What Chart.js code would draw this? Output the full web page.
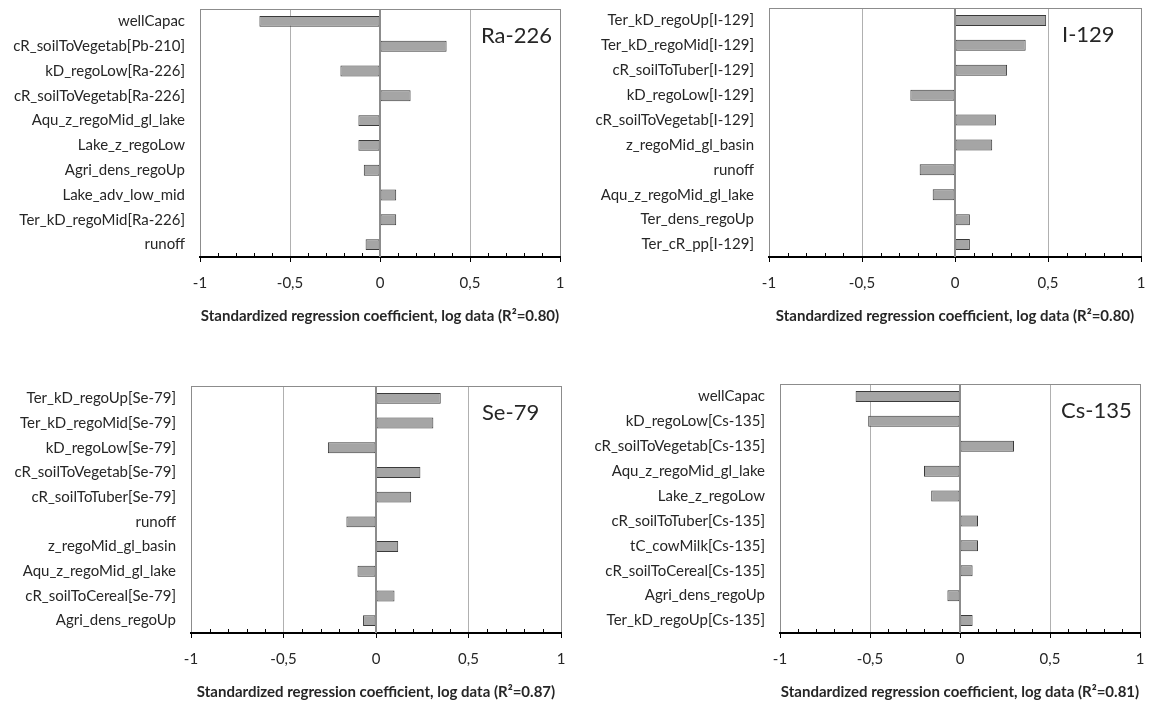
<!DOCTYPE html>
<html><head><meta charset="utf-8">
<script src="https://cdn.jsdelivr.net/npm/chart.js@4/dist/chart.umd.min.js"></script>
<style>
html,body{margin:0;padding:0;background:#fff;}
#wrap{position:relative;width:1162px;height:706px;overflow:hidden;background:#fff;}
canvas{position:absolute;}
</style></head><body>
<div id="wrap">
<canvas id="c1" width="581" height="340" style="left:0;top:0"></canvas>
<canvas id="c2" width="581" height="340" style="left:581px;top:0"></canvas>
<canvas id="c3" width="581" height="366" style="left:0;top:340px"></canvas>
<canvas id="c4" width="581" height="366" style="left:581px;top:340px"></canvas>
</div>
<script>
// ---- data ----
const tickValues = [-1, -0.5, 0, 0.5, 1];
const tickLabels = ['-1', '-0,5', '0', '0,5', '1'];
const axisTitleText = 'Standardized regression coefficient, log data';

const raName = 'Ra-226';
const raR2 = '0.80';
const raLabels = ['wellCapac','cR_soilToVegetab[Pb-210]','kD_regoLow[Ra-226]','cR_soilToVegetab[Ra-226]','Aqu_z_regoMid_gl_lake','Lake_z_regoLow','Agri_dens_regoUp','Lake_adv_low_mid','Ter_kD_regoMid[Ra-226]','runoff'];
const raValues = [-0.67, 0.37, -0.22, 0.17, -0.12, -0.12, -0.09, 0.09, 0.09, -0.08];

const iName = 'I-129';
const iR2 = '0.80';
const iLabels = ['Ter_kD_regoUp[I-129]','Ter_kD_regoMid[I-129]','cR_soilToTuber[I-129]','kD_regoLow[I-129]','cR_soilToVegetab[I-129]','z_regoMid_gl_basin','runoff','Aqu_z_regoMid_gl_lake','Ter_dens_regoUp','Ter_cR_pp[I-129]'];
const iValues = [0.49, 0.38, 0.28, -0.24, 0.22, 0.20, -0.19, -0.12, 0.08, 0.08];

const seName = 'Se-79';
const seR2 = '0.87';
const seLabels = ['Ter_kD_regoUp[Se-79]','Ter_kD_regoMid[Se-79]','kD_regoLow[Se-79]','cR_soilToVegetab[Se-79]','cR_soilToTuber[Se-79]','runoff','z_regoMid_gl_basin','Aqu_z_regoMid_gl_lake','cR_soilToCereal[Se-79]','Agri_dens_regoUp'];
const seValues = [0.35, 0.31, -0.26, 0.24, 0.19, -0.16, 0.12, -0.10, 0.10, -0.07];

const csName = 'Cs-135';
const csR2 = '0.81';
const csLabels = ['wellCapac','kD_regoLow[Cs-135]','cR_soilToVegetab[Cs-135]','Aqu_z_regoMid_gl_lake','Lake_z_regoLow','cR_soilToTuber[Cs-135]','tC_cowMilk[Cs-135]','cR_soilToCereal[Cs-135]','Agri_dens_regoUp','Ter_kD_regoUp[Cs-135]'];
const csValues = [-0.58, -0.51, 0.30, -0.20, -0.16, 0.10, 0.10, 0.07, -0.07, 0.07];

// ---- rendering ----
const FONT = 'Lato, "Open Sans", sans-serif';
const TEXT = '#262626';
const isMajor = v => Math.abs(v * 2 - Math.round(v * 2)) < 1e-6;
const labelFor = v => {
  const i = tickValues.findIndex(t => Math.abs(t - v) < 1e-6);
  return i >= 0 ? tickLabels[i] : '';
};
const noPad = s => { s.paddingTop = 0; s.paddingBottom = 0; s.paddingLeft = 0; s.paddingRight = 0; };

const framePlugin = {
  id: 'frame',
  afterDatasetsDraw(chart, args, opts) {
    const {ctx, chartArea: a, scales: {x}} = chart;
    ctx.save();
    // top border
    ctx.strokeStyle = '#8c8c8c'; ctx.lineWidth = 1;
    ctx.beginPath(); ctx.moveTo(a.left, a.top + 0.5); ctx.lineTo(a.right, a.top + 0.5); ctx.stroke();
    // zero axis line
    const z = x.getPixelForValue(0);
    ctx.strokeStyle = '#8c8c8c'; ctx.lineWidth = 2;
    ctx.beginPath(); ctx.moveTo(z, a.top); ctx.lineTo(z, a.bottom); ctx.stroke();
    // minor ticks pointing up
    ctx.strokeStyle = '#000'; ctx.lineWidth = 1;
    x.ticks.forEach(t => {
      if (!isMajor(t.value)) {
        const px = Math.round(x.getPixelForValue(t.value)) + 0.5;
        ctx.beginPath(); ctx.moveTo(px, a.bottom); ctx.lineTo(px, a.bottom - 4); ctx.stroke();
      }
    });
    // panel name
    ctx.fillStyle = TEXT; ctx.font = '22px ' + FONT;
    ctx.textAlign = 'left'; ctx.textBaseline = 'middle';
    ctx.fillText(opts.text, a.right - 79, a.top + 27);
    ctx.restore();
  }
};

function makeChart(id, labels, values, name, r2, g) {
  return new Chart(document.getElementById(id), {
    type: 'bar',
    data: {
      labels: labels,
      datasets: [{
        data: values,
        backgroundColor: '#a5a5a5',
        borderColor: '#3a3a3a',
        borderWidth: 1,
        borderSkipped: false,
        barPercentage: 0.44,
        categoryPercentage: 1
      }]
    },
    options: {
      indexAxis: 'y',
      responsive: false,
      animation: false,
      devicePixelRatio: 1,
      layout: {padding: {left: 0, top: g.top, right: g.right, bottom: 0}},
      plugins: {legend: {display: false}, tooltip: {enabled: false}, frame: {text: name}},
      scales: {
        x: {
          type: 'linear', min: -1, max: 1,
          afterFit: s => { s.height = g.xh; noPad(s); },
          ticks: {
            stepSize: 0.1, autoSkip: false, maxRotation: 0,
            padding: 12, color: TEXT, font: {family: FONT, size: 15},
            callback: v => labelFor(v)
          },
          grid: {
            color: c => {
              const v = c.tick ? c.tick.value : NaN;
              if (Math.abs(Math.abs(v) - 1) < 1e-6) return '#8c8c8c';
              if (isMajor(v)) return '#b0b0b0';
              return 'rgba(0,0,0,0)';
            },
            lineWidth: 1,
            drawTicks: true, tickLength: 5, tickWidth: 1,
            tickColor: c => (c.tick && isMajor(c.tick.value)) ? '#000' : 'rgba(0,0,0,0)'
          },
          border: {display: true, color: '#000', width: 2},
          title: {
            display: true, text: axisTitleText + ' (R\u00B2=' + r2 + ')',
            color: TEXT, font: {family: FONT, size: 15, weight: 'bold'},
            padding: {top: 0, bottom: g.tb}
          }
        },
        y: {
          type: 'category',
          afterFit: s => { s.width = g.yw; noPad(s); },
          grid: {display: false, drawTicks: false},
          border: {display: false},
          ticks: {autoSkip: false, padding: 15, color: TEXT, font: {family: FONT, size: 15}}
        }
      }
    },
    plugins: [framePlugin]
  });
}

makeChart('c1', raLabels, raValues, raName, raR2, {top: 9, right: 21, yw: 200, xh: 83, tb: 15});
makeChart('c2', iLabels, iValues, iName, iR2, {top: 8, right: 21, yw: 188, xh: 83, tb: 15});
makeChart('c3', seLabels, seValues, seName, seR2, {top: 46, right: 20, yw: 191, xh: 73, tb: 5});
makeChart('c4', csLabels, csValues, csName, csR2, {top: 44, right: 22, yw: 199, xh: 73, tb: 5});
</script>
</body></html>
